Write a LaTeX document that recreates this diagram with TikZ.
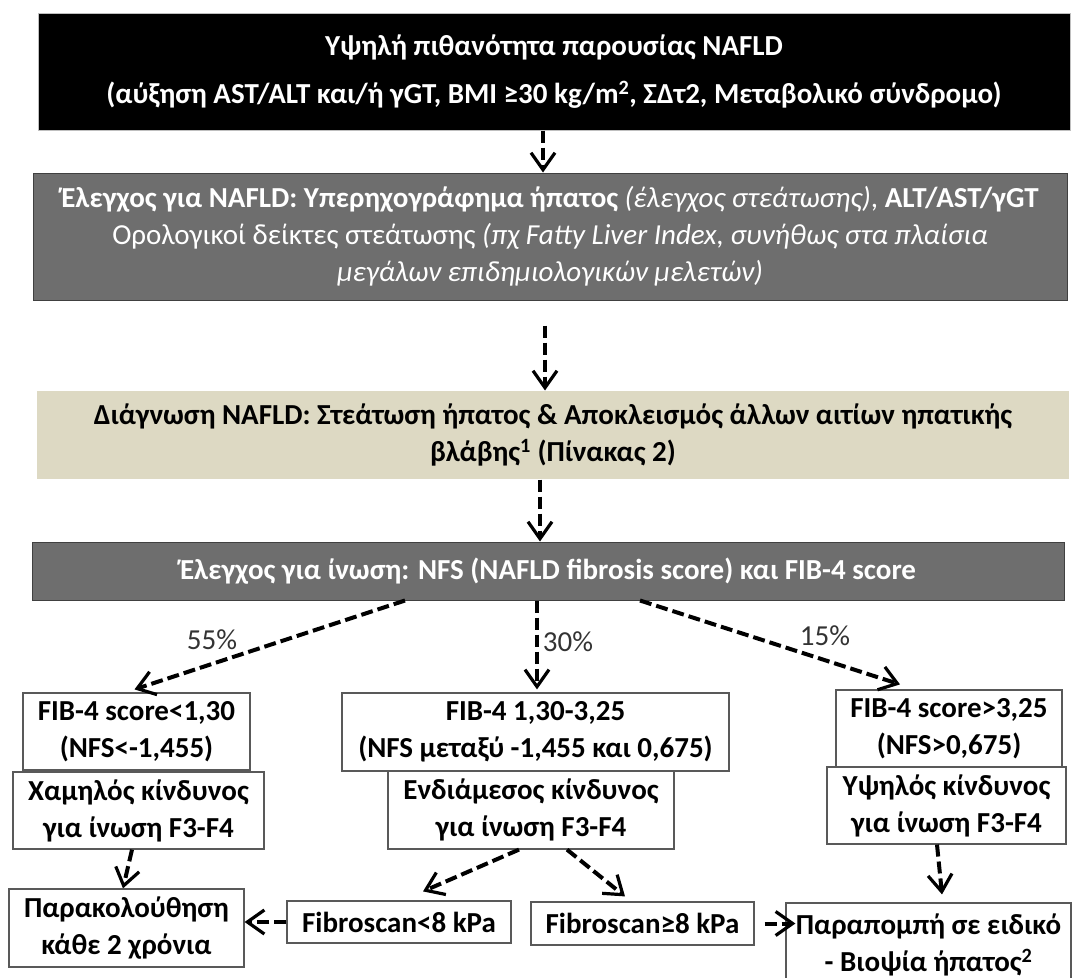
\documentclass[tikz,border=0pt]{standalone}
\usepackage{fontspec}
\setmainfont{Carlito}
\usetikzlibrary{arrows.meta}
\definecolor{boxgray}{HTML}{6E6E6E}
\definecolor{beige}{HTML}{DDD9C3}
\definecolor{pctgray}{HTML}{333333}
\tikzset{
  txt/.style={font=\fontsize{29}{37}\selectfont},
  bigbox/.style={txt, inner sep=0pt, align=center, line width=1pt},
  smallbox/.style={txt, font=\bfseries\fontsize{29}{37}\selectfont, draw=black!65, line width=1.2pt, inner sep=0pt, align=center, fill=white},
  darr/.style={line width=4pt, dash pattern=on 12pt off 5pt, -{Straight Barb[length=17pt,width=24pt,line width=3.2pt]}},
  pct/.style={txt, text=pctgray},
}
\begin{document}
\begin{tikzpicture}[x=1pt,y=-1pt]
\useasboundingbox (0,0) rectangle (1073,977);
\clip (0,0) rectangle (1073,977);
% main chain
\node[bigbox, fill=black, draw=black!25, text=white, font=\bfseries\fontsize{29}{48}\selectfont,
  minimum width=1032pt, minimum height=117pt] (b1) at (554,71.5)
  {Υψηλή πιθανότητα παρουσίας NAFLD\\(αύξηση AST/ALT και/ή γGT, BMI ≥30 kg/m\textsuperscript{2}, ΣΔτ2, Μεταβολικό σύνδρομο)};
\node[bigbox, fill=boxgray, draw=black!75, text=white,
  minimum width=1034pt, minimum height=127pt] (b2) at (550,236.5)
  {\textbf{Έλεγχος για NAFLD: Υπερηχογράφημα ήπατος} \textit{(έλεγχος στεάτωσης)}, \textbf{ALT/AST/γGT}\\
   Ορολογικοί δείκτες στεάτωσης \textit{(πχ Fatty Liver Index, συνήθως στα πλαίσια}\\
   \textit{μεγάλων επιδημιολογικών μελετών)}};
\node[bigbox, fill=beige, font=\bfseries\fontsize{29}{37}\selectfont,
  minimum width=1032pt, minimum height=88pt] (b3) at (553,435)
  {Διάγνωση NAFLD: Στεάτωση ήπατος \& Αποκλεισμός άλλων αιτίων ηπατικής\\βλάβης\textsuperscript{1} (Πίνακας 2)};
\node[bigbox, fill=boxgray, draw=black!75, text=white, font=\bfseries\fontsize{29}{37}\selectfont,
  minimum width=1032pt, minimum height=58pt] (b4) at (548,571)
  {Έλεγχος για ίνωση: NFS (NAFLD fibrosis score) και FIB-4 score};
% left column
\node[smallbox, minimum width=227pt, minimum height=77pt] (b5a) at (136.5,731.5) {FIB-4 score<1,30\\(NFS<-1,455)};
\node[smallbox, minimum width=251pt, minimum height=77pt] (b6a) at (138.5,810.5) {Χαμηλός κίνδυνος\\για ίνωση F3-F4};
\node[smallbox, minimum width=235pt, minimum height=78pt] (b7a) at (126.5,928) {Παρακολούθηση\\κάθε 2 χρόνια};
% middle column
\node[smallbox, minimum width=387pt, minimum height=78pt] (b5b) at (535.5,732) {FIB-4 1,30-3,25\\(NFS μεταξύ -1,455 και 0,675)};
\node[smallbox, minimum width=286pt, minimum height=78pt] (b6b) at (531,810) {Ενδιάμεσος κίνδυνος\\για ίνωση F3-F4};
\node[smallbox, minimum width=224pt, minimum height=42pt] (f1) at (399,922) {Fibroscan<8 kPa};
\node[smallbox, minimum width=223pt, minimum height=43pt] (f2) at (642.5,923.5) {Fibroscan≥8 kPa};
% right column
\node[smallbox, minimum width=226pt, minimum height=77pt] (b5c) at (949,728.5) {FIB-4 score>3,25\\(NFS>0,675)};
\node[smallbox, minimum width=239pt, minimum height=77pt] (b6c) at (946.5,805.5) {Υψηλός κίνδυνος\\για ίνωση F3-F4};
\node[smallbox, minimum width=285pt, minimum height=84pt] (b8) at (928.5,945) {Παραπομπή σε ειδικό\\- Βιοψία ήπατος\textsuperscript{2}};
% connectors
\draw[darr] ([xshift=-11pt]b1.south) -- ([xshift=-7pt]b2.north);
\draw[darr] ([xshift=-5pt,yshift=-25pt]b2.south) -- ([xshift=-8pt]b3.north);
\draw[darr] ([xshift=-13pt]b3.south) -- ([xshift=-8pt]b4.north);
\draw[darr] ([xshift=-143pt]b4.south) -- ([xshift=-2pt,yshift=3pt]b5a.north);
\draw[darr] ([xshift=-11pt]b4.south) -- ([xshift=1.5pt,yshift=3pt]b5b.north);
\draw[darr] ([xshift=92pt]b4.south) -- ([xshift=-49pt,yshift=5pt]b5c.north);
\draw[darr] ([xshift=-6.5pt]b6a.south) -- ([xshift=-3.5pt]b7a.north);
\draw[darr] (f1.west) -- (f1.west -| b7a.east);
\draw[darr] ([xshift=-12pt]b6b.south) -- ([xshift=24pt,yshift=9pt]f1.north);
\draw[darr] ([xshift=36pt]b6b.south) -- ([xshift=-17.5pt,yshift=5pt]f2.north);
\draw[darr] ([xshift=10pt]f2.east) -- ([xshift=10pt]f2.east -| b8.west);
\draw[darr] ([xshift=-9.5pt]b6c.south) -- ([xshift=13.5pt,yshift=8pt]b8.north);
% percentages
\node[pct] (p55) at (212,640) {55\%};
\node[pct] (p30) at (568,642) {30\%};
\node[pct] (p15) at (825,636) {15\%};
\end{tikzpicture}
\end{document}
